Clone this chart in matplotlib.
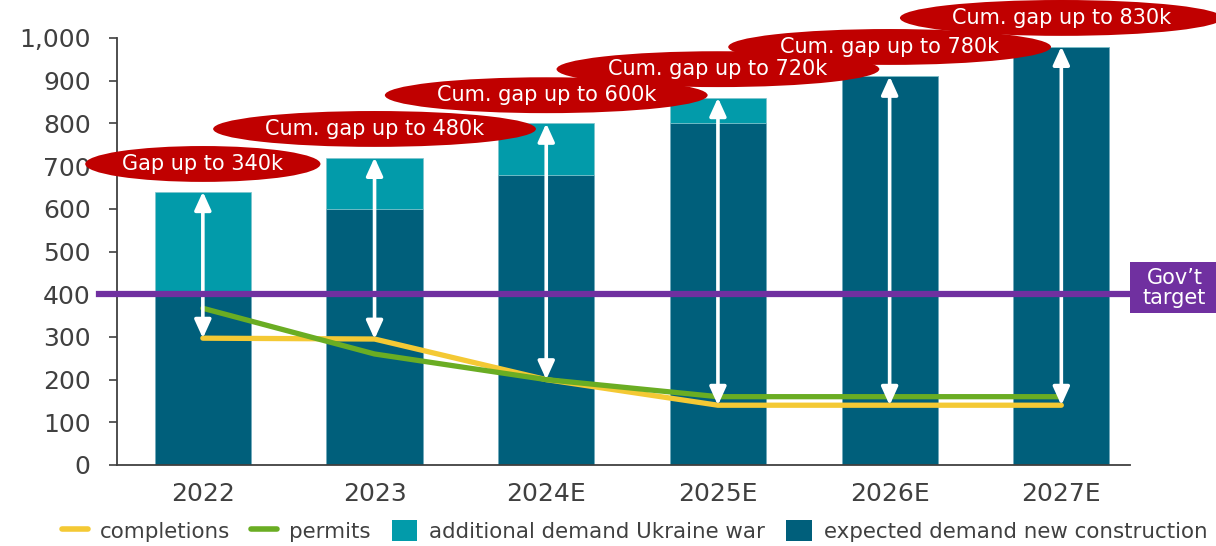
import matplotlib
matplotlib.use('Agg')
import matplotlib.pyplot as plt
from matplotlib.patches import Ellipse, Rectangle, Patch
from matplotlib.lines import Line2D
from matplotlib.transforms import blended_transform_factory
from matplotlib.ticker import FuncFormatter


YEARS = ['2022', '2023', '2024E', '2025E', '2026E', '2027E']
EXPECTED_DEMAND = [400, 600, 680, 800, 910, 980]
UKRAINE_DEMAND = [240, 120, 120, 60, 0, 0]
COMPLETIONS = [297, 295, 200, 140, 140, 140]
PERMITS = [367, 260, 200, 160, 160, 160]
GOV_TARGET = 400
GAP_LABELS = ['Gap up to 340k', 'Cum. gap up to 480k', 'Cum. gap up to 600k',
              'Cum. gap up to 720k', 'Cum. gap up to 780k', 'Cum. gap up to 830k']

# layout of the red gap bubbles (data units)
BUBBLE_Y = [705, 787, 866, 927, 979, 1047]
BUBBLE_W = [1.37, 1.88, 1.88, 1.88, 1.88, 1.88]
BUBBLE_H = 84

DARK = '#005F7B'
TEAL = '#029BAA'
YELLOW = '#F4C934'
GREEN = '#6AAD23'
PURPLE = '#7030A0'
RED = '#C00000'
GREY = '#404040'
FS = 15


def main():
    fig = plt.figure(figsize=(12.16, 5.46), dpi=100)
    ax = fig.add_axes([117 / 1216, 81 / 546, 1013 / 1216, 427 / 546])
    x = list(range(len(YEARS)))

    ax.bar(x, EXPECTED_DEMAND, width=0.56, color=DARK, edgecolor='#6fa9bb',
           linewidth=0.5, zorder=1)
    ax.bar(x, UKRAINE_DEMAND, width=0.56, bottom=EXPECTED_DEMAND, color=TEAL,
           edgecolor='#7fc4cc', linewidth=0.5, zorder=1)

    ax.plot(x, COMPLETIONS, color=YELLOW, lw=3.8, zorder=2, solid_capstyle='round')
    ax.plot(x, PERMITS, color=GREEN, lw=3.8, zorder=2.1, solid_capstyle='round')

    # white double arrows: completions -> total demand
    for xi, low, exp, ukr in zip(x, COMPLETIONS, EXPECTED_DEMAND, UKRAINE_DEMAND):
        ax.annotate('', xy=(xi, exp + ukr), xytext=(xi, low),
                    arrowprops=dict(arrowstyle='<|-|>,head_length=0.55,head_width=0.25',
                                    mutation_scale=20, color='white', lw=2.6,
                                    shrinkA=0, shrinkB=0),
                    zorder=3)

    # government target line and label box
    ax.axhline(GOV_TARGET, xmin=-0.018, xmax=1.0, color=PURPLE, lw=4.5,
               zorder=4, clip_on=False)
    trans = blended_transform_factory(ax.transAxes, ax.transData)
    ax.add_patch(Rectangle((1.0, GOV_TARGET - 45), 0.088, 120, transform=trans,
                           facecolor=PURPLE, edgecolor='none', clip_on=False, zorder=4))
    ax.text(1.044, GOV_TARGET + 15, 'Gov\u2019t\ntarget', transform=trans,
            ha='center', va='center', color='white', fontsize=FS,
            linespacing=1.0, zorder=5)

    # red gap bubbles
    for xi, label, by, bw in zip(x, GAP_LABELS, BUBBLE_Y, BUBBLE_W):
        ax.add_patch(Ellipse((xi, by), bw, BUBBLE_H, facecolor=RED,
                             edgecolor='none', clip_on=False, zorder=5))
        ax.text(xi, by, label, ha='center', va='center', color='white',
                fontsize=FS, zorder=6)

    ax.set_xlim(-0.5, 5.4)
    ax.set_ylim(0, 1000)
    ax.set_yticks(range(0, 1001, 100))
    ax.yaxis.set_major_formatter(FuncFormatter(lambda v, p: f'{v:,.0f}'))
    ax.set_xticks(x)
    ax.set_xticklabels(YEARS)
    ax.tick_params(axis='y', length=6, width=1.2, color=GREY, labelcolor=GREY,
                   labelsize=18, pad=13)
    ax.tick_params(axis='x', length=0, labelcolor=GREY, labelsize=18, pad=12)
    for side in ('top', 'right'):
        ax.spines[side].set_visible(False)
    for side in ('left', 'bottom'):
        ax.spines[side].set_color(GREY)
        ax.spines[side].set_linewidth(1.3)

    handles = [Line2D([], [], color=YELLOW, lw=4, solid_capstyle='round'),
               Line2D([], [], color=GREEN, lw=4, solid_capstyle='round'),
               Patch(facecolor=TEAL),
               Patch(facecolor=DARK)]
    labels = ['completions', 'permits', 'additional demand Ukraine war',
              'expected demand new construction']
    leg = fig.legend(handles, labels, loc='center', bbox_to_anchor=(0.522, 0.027),
                     ncol=4, frameon=False, fontsize=15.4, handlelength=1.2,
                     handleheight=1.1, handletextpad=0.55, columnspacing=1.0,
                     borderpad=0, borderaxespad=0)
    for t in leg.get_texts():
        t.set_color(GREY)

    fig.savefig('out.png', dpi=100)


if __name__ == '__main__':
    main()
